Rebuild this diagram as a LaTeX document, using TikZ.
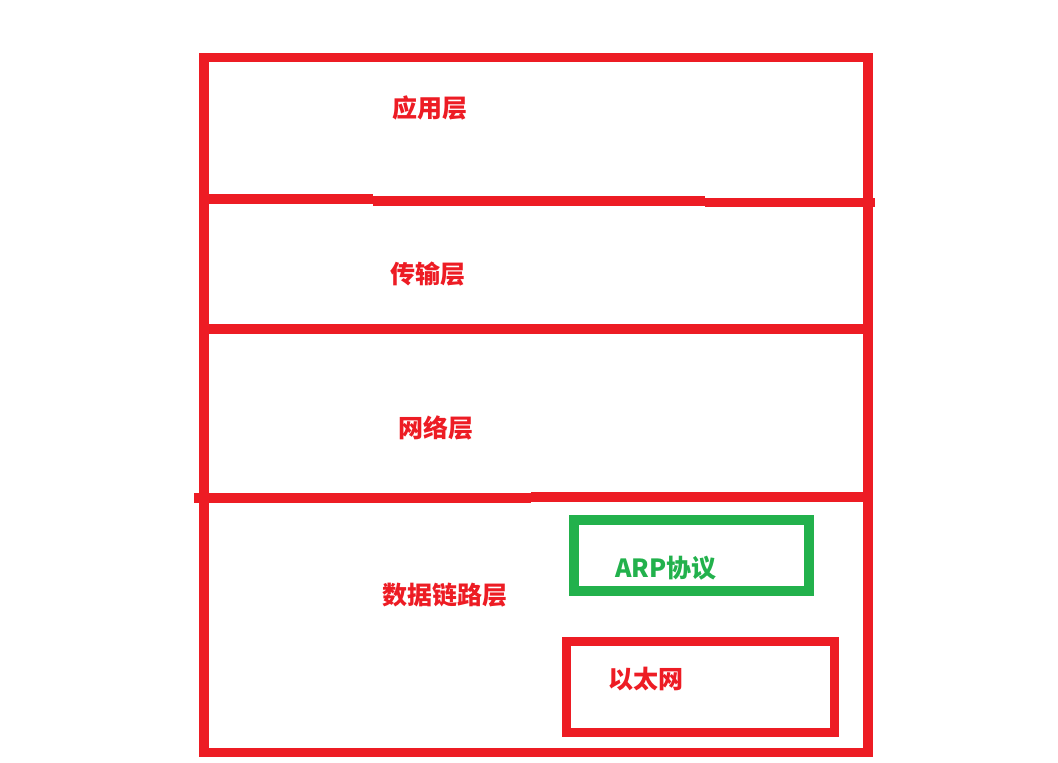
\documentclass[tikz,border=0pt]{standalone}
\usepackage{fontspec}
\newfontfamily\cjk{Noto Sans CJK SC}
\definecolor{paintred}{HTML}{ED1C24}
\definecolor{paintgreen}{HTML}{22B14C}
\tikzset{
  layer label/.style={text=paintred, inner sep=0pt,
    font=\cjk\bfseries\fontsize{25}{25}\selectfont},
  proto label/.style={layer label, text=paintgreen},
  frame line/.style={draw=paintred, line width=9.5pt},
}

\begin{document}
\begin{tikzpicture}[x=1pt, y=-1pt]
\useasboundingbox (0,0) rectangle (1058,763);
\begin{scope}[frame line]

  % outer frame
  \draw (204,57.5) rectangle (868,752.5);

  % lines between the layers
  \draw (204,199)   -- (373,199);
  \draw (373,201)   -- (705,201);
  \draw (705,202.5) -- (875,202.5);
  \draw (204,329)   -- (868,329);
  \draw (194,498)   -- (531,498);
  \draw (531,497)   -- (868,497);

  % boxes inside the data link layer
  \draw[draw=paintgreen] (574,520) rectangle (809,591);
  \draw (566.5,641.5) rectangle (834.5,732.5);

\end{scope}

  % layer names
  \node[layer label] (app)   at (430,108)   {应用层};
  \node[layer label] (trans) at (427.5,274.5) {传输层};
  \node[layer label] (net)   at (435.5,428) {网络层};
  \node[layer label] (link)  at (445,595)   {数据链路层};

  \node[proto label] (arp)   at (666,568)   {ARP协议};
  \node[layer label] (eth)   at (645.5,679.5) {以太网};

\end{tikzpicture}
\end{document}
